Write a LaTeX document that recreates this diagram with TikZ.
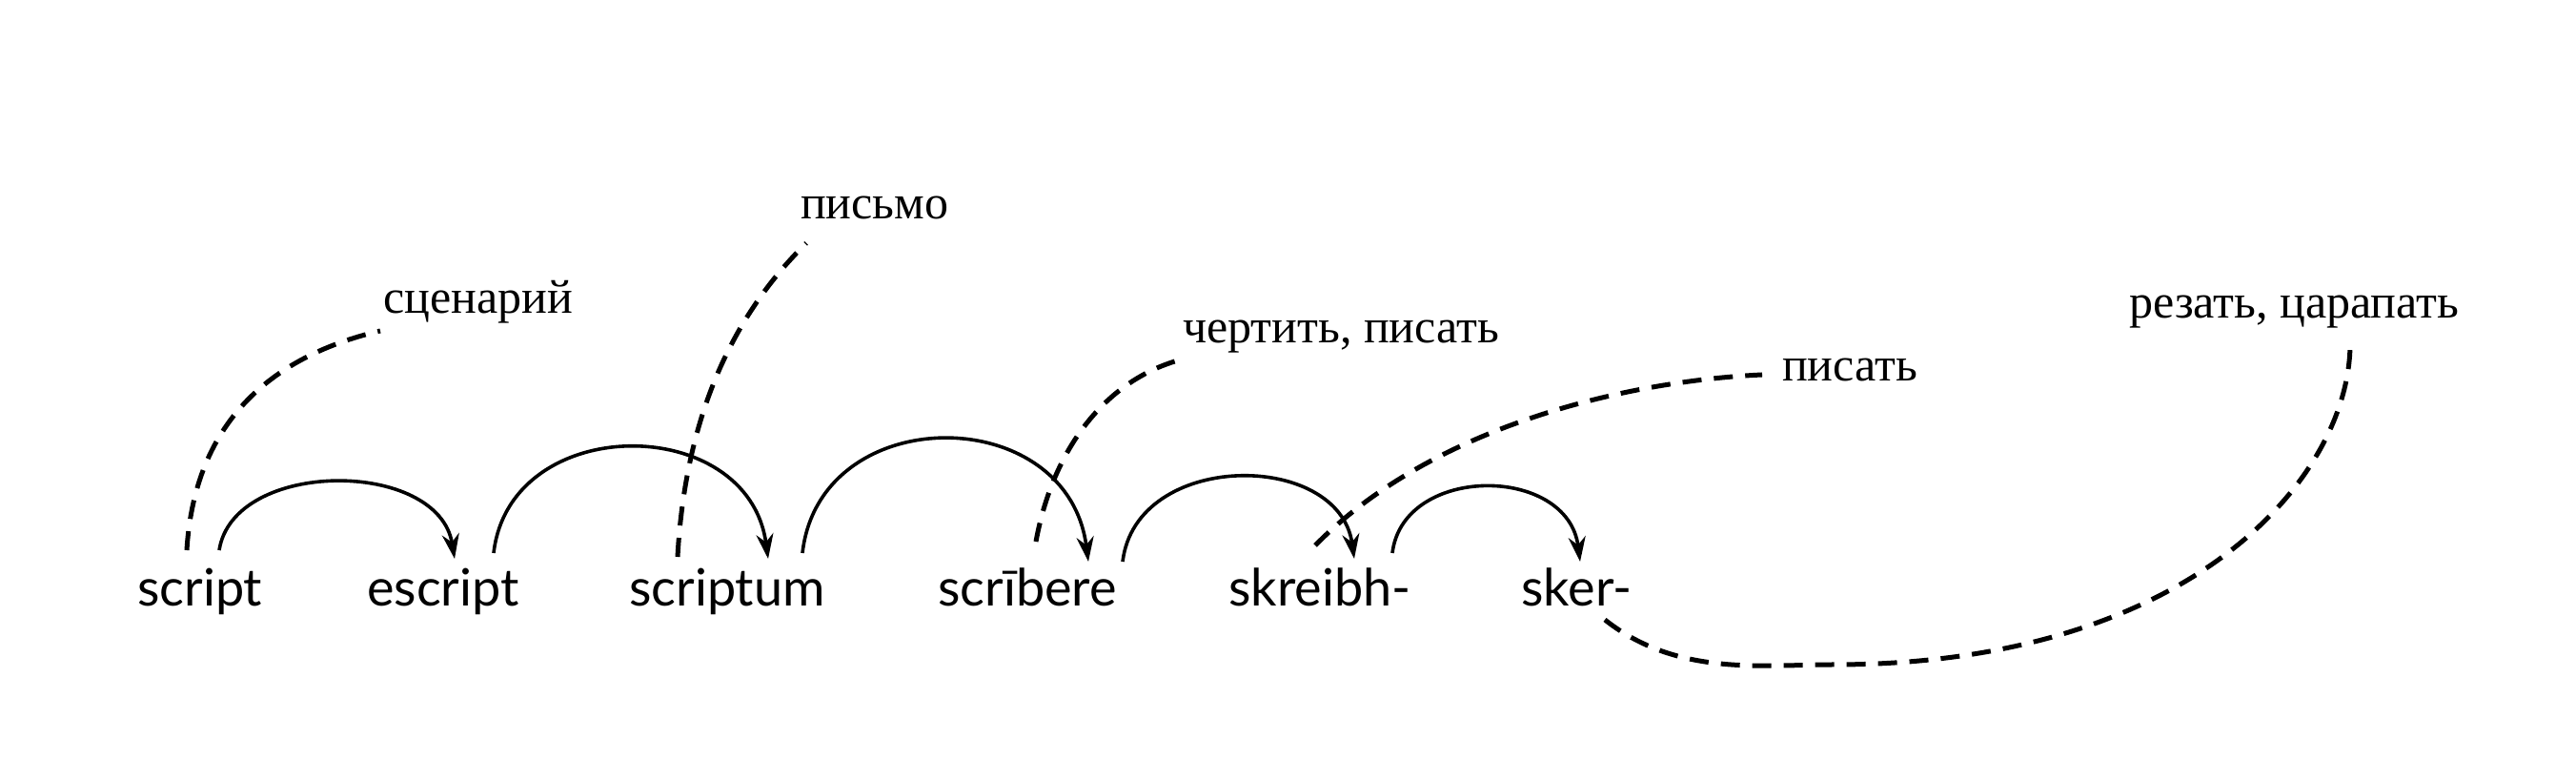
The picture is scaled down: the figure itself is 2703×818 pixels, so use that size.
\documentclass[tikz,border=0pt]{standalone}
\usepackage{fontspec}
\setmainfont{Liberation Serif}
\newfontfamily\wordfont{Lato}
\usetikzlibrary{arrows.meta}
\begin{document}
\begin{tikzpicture}[x=1pt,y=1pt,
  word/.style={anchor=base west,inner sep=0pt,font=\wordfont\fontsize{54}{60}\selectfont},
  gloss/.style={anchor=base west,inner sep=0pt,font=\fontsize{50}{56}\selectfont},
  hop/.style={line width=3.6pt,-{Stealth[length=26pt,width=18pt]}},
  link/.style={line width=5pt,dash pattern=on 20pt off 13pt}]
\useasboundingbox (0,0) rectangle (2703,818);
\node[word] (w1) at (144,182) {script};
\node[word] (w2) at (385,182) {escript};
\node[word] (w3) at (660,182) {scriptum};
\node[word] (w4) at (984,182) {scr\={\i}bere};
\node[word] (w5) at (1289,182) {skreibh-};
\node[word] (w6) at (1596,182) {sker-};
\node[gloss] (g1) at (402,489) {сценарий};
\node[gloss] (g2) at (840,588) {письмо};
\node[gloss] (g3) at (1241,458) {чертить, писать};
\node[gloss] (g4) at (1870,418) {писать};
\node[gloss] (g5) at (2234,484) {резать, царапать};
% arc endpoints
\coordinate (a1s) at (230,241); \coordinate (a1e) at (477,232);
\coordinate (a2s) at (518,238); \coordinate (a2e) at (806,232);
\coordinate (a3s) at (842,238); \coordinate (a3e) at (1142,229);
\coordinate (a4s) at (1178,229); \coordinate (a4e) at (1421,232);
\coordinate (a5s) at (1461,238); \coordinate (a5e) at (1658,229);
\draw[hop] (a1s) .. controls (245,337) and (460,337) .. (a1e);
\draw[hop] (a2s) .. controls (535,386) and (785,386) .. (a2e);
\draw[hop] (a3s) .. controls (860,398) and (1120,398) .. (a3e);
\draw[hop] (a4s) .. controls (1192,346) and (1405,346) .. (a4e);
\draw[hop] (a5s) .. controls (1472,331) and (1645,331) .. (a5e);
% dashed links
\coordinate (d1s) at (196,241); \coordinate (d1e) at (399,471);
\coordinate (d2s) at (711,234); \coordinate (d2e) at (846,563);
\coordinate (d3s) at (1087,250); \coordinate (d3e) at (1236,440);
\coordinate (d4s) at (1380,246); \coordinate (d4e) at (1849,425);
\coordinate (d5s) at (1684,168); \coordinate (d5m) at (1924,121); \coordinate (d5e) at (2466,458);
\draw[link] (d1s) .. controls (205,388) and (300,448) .. (d1e);
\draw[link] (d2s) .. controls (720,398) and (780,498) .. (d2e);
\draw[link] (d3s) .. controls (1105,348) and (1160,418) .. (d3e);
\draw[link] (d4s) .. controls (1500,368) and (1700,418) .. (d4e);
\draw[link] (d5s) .. controls (1760,108) and (1850,121) .. (d5m) .. controls (2300,121) and (2466,318) .. (d5e);
\end{tikzpicture}
\end{document}
